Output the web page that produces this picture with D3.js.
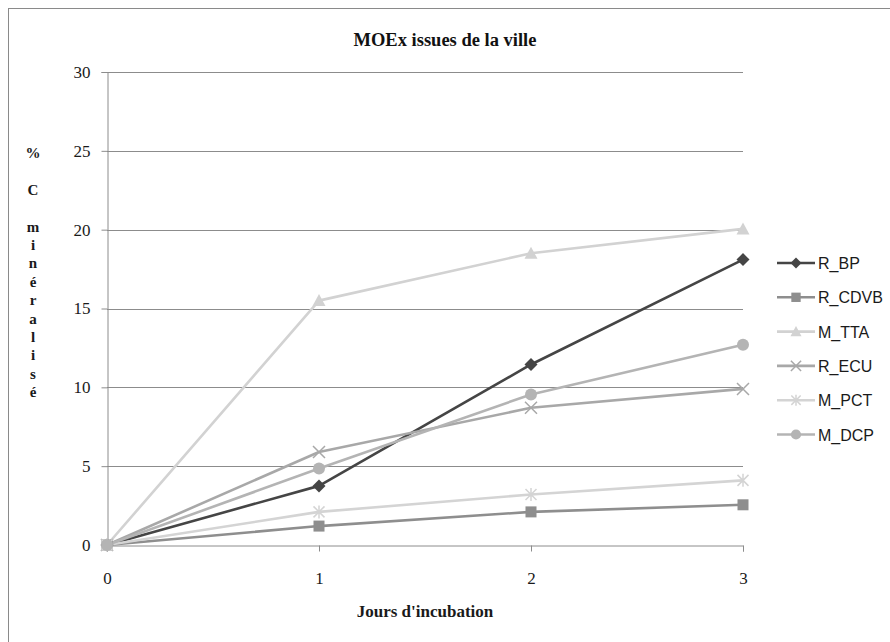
<!DOCTYPE html>
<html>
<head>
<meta charset="utf-8">
<script src="https://cdn.jsdelivr.net/npm/d3@7"></script>
<style>
  html, body { margin: 0; padding: 0; background: #fff; }
  svg { display: block; }
</style>
</head>
<body>
<svg id="chart" width="890" height="642"></svg>
<script>
// Days of incubation and % mineralised carbon per sample
const days = [0, 1, 2, 3];
const seriesNames = ["R_BP", "R_CDVB", "M_TTA", "R_ECU", "M_PCT", "M_DCP"];
const rBP   = [0, 3.75, 11.45, 18.1];
const rCDVB = [0, 1.2, 2.1, 2.55];
const mTTA  = [0, 15.5, 18.5, 20.05];
const rECU  = [0, 5.9, 8.7, 9.9];
const mPCT  = [0, 2.1, 3.2, 4.1];
const mDCP  = [0, 4.85, 9.55, 12.7];
const yTicks = [0, 5, 10, 15, 20, 25, 30];
const yTitle = "% C minéralisé";
const xTitle = "Jours d'incubation";
const chartTitle = "MOEx issues de la ville";

const series = [
  { name: "R_BP",   values: rBP,   color: "#454545", symbol: "diamond" },
  { name: "R_CDVB", values: rCDVB, color: "#8e8e8e", symbol: "square" },
  { name: "M_TTA",  values: mTTA,  color: "#d2d2d2", symbol: "triangle" },
  { name: "R_ECU",  values: rECU,  color: "#a8a8a8", symbol: "cross" },
  { name: "M_PCT",  values: mPCT,  color: "#d4d4d4", symbol: "star" },
  { name: "M_DCP",  values: mDCP,  color: "#b4b4b4", symbol: "circle" }
];

const serif = "'Liberation Serif', 'DejaVu Serif', serif";
const svg = d3.select("#chart");

// outer chart frame
svg.append("rect")
  .attr("x", 8.5).attr("y", 8.5)
  .attr("width", 890).attr("height", 650)
  .attr("fill", "none").attr("stroke", "#8a8a8a").attr("stroke-width", 1);

const x = d3.scaleLinear().domain([0, 3]).range([107, 743]);
const y = d3.scaleLinear().domain([0, 30]).range([545, 72]);

// title
svg.append("text")
  .attr("x", 445).attr("y", 46)
  .attr("text-anchor", "middle")
  .attr("font-family", serif)
  .attr("font-weight", "bold")
  .attr("font-size", 18.5)
  .attr("fill", "#111")
  .text(chartTitle);

// horizontal gridlines
svg.append("g").selectAll("line")
  .data(yTicks.filter(d => d > 0))
  .join("line")
  .attr("x1", x(0)).attr("x2", x(3))
  .attr("y1", d => Math.round(y(d)) + 0.5).attr("y2", d => Math.round(y(d)) + 0.5)
  .attr("stroke", "#8c8c8c").attr("stroke-width", 1);

// y axis
const yAxis = svg.append("g")
  .attr("transform", `translate(${x(0) + 0.5},0)`)
  .call(d3.axisLeft(y).tickValues(yTicks).tickSize(6).tickPadding(11).tickFormat(d3.format("d")));
yAxis.select(".domain").attr("stroke", "#8c8c8c");
yAxis.selectAll(".tick line").attr("stroke", "#8c8c8c");
yAxis.selectAll(".tick text")
  .attr("font-family", serif)
  .attr("font-size", 17).attr("fill", "#1a1a1a");

// x axis
const xAxis = svg.append("g")
  .attr("transform", `translate(0,${Math.round(y(0)) + 0.5})`)
  .call(d3.axisBottom(x).tickValues(days).tickSize(6).tickPadding(20).tickFormat(d3.format("d")));
xAxis.select(".domain").attr("stroke", "#8c8c8c");
xAxis.selectAll(".tick line").attr("stroke", "#8c8c8c");
xAxis.selectAll(".tick text")
  .attr("font-family", serif)
  .attr("font-size", 17).attr("fill", "#1a1a1a");

// x axis title
svg.append("text")
  .attr("x", 425).attr("y", 617)
  .attr("text-anchor", "middle")
  .attr("font-family", serif)
  .attr("font-weight", "bold")
  .attr("font-size", 17)
  .attr("fill", "#1a1a1a")
  .text(xTitle);

// y axis title, one character per line
const yChars = Array.from(yTitle);
svg.append("text")
  .attr("font-family", serif)
  .attr("font-weight", "bold")
  .attr("font-size", 15)
  .attr("fill", "#1a1a1a")
  .attr("text-anchor", "middle")
  .selectAll("tspan")
  .data(yChars)
  .join("tspan")
  .attr("x", 33)
  .attr("y", (d, i) => 158 + i * 18.4)
  .text(d => d === " " ? "\u00a0" : d);

// marker drawing
function drawMarker(g, type, color, s) {
  const k = s || 1;
  switch (type) {
    case "diamond":
      g.append("path").attr("d", `M0,${-6.5*k}L${6.5*k},0L0,${6.5*k}L${-6.5*k},0Z`).attr("fill", color);
      break;
    case "square":
      g.append("rect").attr("x", -5.5 * k).attr("y", -5.5 * k)
        .attr("width", 11 * k).attr("height", 11 * k).attr("fill", color);
      break;
    case "triangle":
      g.append("path").attr("d", `M0,${-6.5*k}L${6.5*k},${5.5*k}L${-6.5*k},${5.5*k}Z`).attr("fill", color);
      break;
    case "circle":
      g.append("circle").attr("r", 6 * k).attr("fill", color);
      break;
    case "cross":
      g.append("path").attr("d", `M${-6*k},${-6*k}L${6*k},${6*k}M${-6*k},${6*k}L${6*k},${-6*k}`)
        .attr("stroke", color).attr("stroke-width", 1.5).attr("fill", "none");
      break;
    case "star":
      g.append("path").attr("d", `M${-5.5*k},${-5.5*k}L${5.5*k},${5.5*k}M${-5.5*k},${5.5*k}L${5.5*k},${-5.5*k}M0,${-6.5*k}L0,${6.5*k}`)
        .attr("stroke", color).attr("stroke-width", 1.5).attr("fill", "none");
      break;
  }
}

const line = d3.line().x((d, i) => x(days[i])).y(d => y(d));

// series lines
const plot = svg.append("g");
series.forEach(s => {
  plot.append("path")
    .datum(s.values)
    .attr("d", line)
    .attr("fill", "none")
    .attr("stroke", s.color)
    .attr("stroke-width", 2.6)
    .attr("stroke-linejoin", "round");
});
// series markers
series.forEach(s => {
  s.values.forEach((v, i) => {
    const g = plot.append("g").attr("transform", `translate(${x(days[i])},${y(v)})`);
    drawMarker(g, s.symbol, s.color);
  });
});

// legend
const legend = svg.append("g");
series.forEach((s, i) => {
  const ly = 263 + i * 34.3;
  const g = legend.append("g").attr("transform", `translate(0,${ly})`);
  g.append("line").attr("x1", 777).attr("x2", 815).attr("y1", 0).attr("y2", 0)
    .attr("stroke", s.color).attr("stroke-width", 2.6);
  const m = g.append("g").attr("transform", "translate(796,0)");
  drawMarker(m, s.symbol, s.color, 0.85);
  g.append("text").attr("x", 818).attr("y", 6)
    .attr("font-family", "'Liberation Sans', Arial, sans-serif")
    .attr("font-size", 16).attr("fill", "#1a1a1a")
    .text(s.name);
});
</script>
</body>
</html>
